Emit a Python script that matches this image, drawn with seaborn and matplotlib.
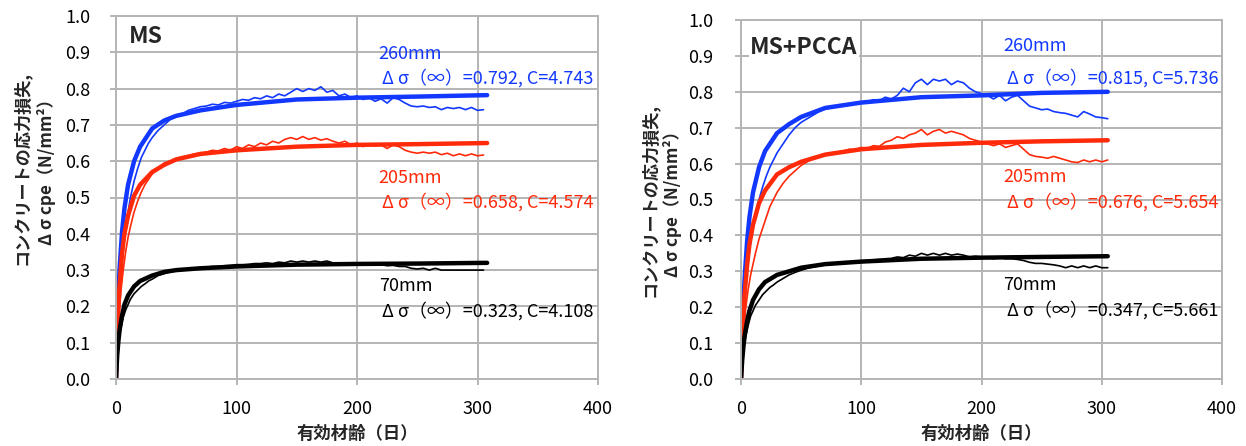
import matplotlib
matplotlib.use("Agg")
import matplotlib.pyplot as plt
import seaborn as sns
import pandas as pd

sns.set_theme(style="white")
plt.rcParams['font.family'] = ['Noto Sans CJK JP', 'DejaVu Sans']

# ---------------- data ----------------
fit_t = [0, 1, 2, 3, 5, 7, 10, 15, 20, 30, 40, 50, 70, 100, 150, 200, 250, 308]
fit_t2 = [0, 1, 2, 3, 5, 7, 10, 15, 20, 30, 40, 50, 70, 100, 150, 200, 250, 305]

ms_fit_260 = [0, 0.14, 0.235, 0.305, 0.405, 0.47, 0.535, 0.60, 0.64, 0.69, 0.712, 0.725, 0.74, 0.755, 0.77, 0.775, 0.778, 0.782]
ms_fit_205 = [0, 0.12, 0.20, 0.26, 0.345, 0.40, 0.45, 0.505, 0.535, 0.57, 0.59, 0.605, 0.62, 0.63, 0.64, 0.645, 0.647, 0.65]
ms_fit_70 = [0, 0.065, 0.105, 0.135, 0.175, 0.205, 0.23, 0.255, 0.27, 0.285, 0.295, 0.30, 0.305, 0.31, 0.315, 0.317, 0.318, 0.32]

pc_fit_260 = [0, 0.12, 0.21, 0.28, 0.38, 0.45, 0.52, 0.59, 0.635, 0.685, 0.71, 0.73, 0.755, 0.77, 0.785, 0.79, 0.797, 0.80]
pc_fit_205 = [0, 0.10, 0.175, 0.235, 0.315, 0.375, 0.43, 0.49, 0.525, 0.57, 0.59, 0.605, 0.625, 0.64, 0.652, 0.658, 0.662, 0.665]
pc_fit_70 = [0, 0.052, 0.09, 0.12, 0.16, 0.19, 0.22, 0.25, 0.27, 0.29, 0.30, 0.31, 0.32, 0.327, 0.335, 0.338, 0.34, 0.342]

meas_t = [0, 2, 4, 6, 8, 10, 12, 15, 18, 21, 24, 27, 30, 35, 40, 45, 50, 55, 60, 65, 70, 75, 80, 85, 90, 95,
          100, 105, 110, 115, 120, 125, 130, 135, 140, 145, 150, 155, 160, 165, 170, 175, 180, 185, 190, 195,
          200, 205, 210, 215, 220, 225, 230, 235, 240, 245, 250, 255, 260, 265, 270, 275, 280, 285, 290, 295,
          300, 305]

ms_meas_260 = [0, 0.2, 0.3, 0.37, 0.42, 0.46, 0.50, 0.545, 0.58, 0.61, 0.63, 0.65, 0.665, 0.685, 0.70, 0.715,
               0.725, 0.73, 0.74, 0.745, 0.75, 0.752, 0.757, 0.755, 0.762, 0.76, 0.765, 0.77, 0.768, 0.775,
               0.772, 0.78, 0.775, 0.785, 0.78, 0.79, 0.80, 0.792, 0.80, 0.795, 0.805, 0.79, 0.795, 0.78,
               0.785, 0.775, 0.78, 0.77, 0.775, 0.765, 0.772, 0.76, 0.775, 0.77, 0.76, 0.752, 0.75, 0.752,
               0.748, 0.75, 0.742, 0.748, 0.745, 0.748, 0.742, 0.748, 0.74, 0.742]
ms_meas_205 = [0, 0.15, 0.24, 0.30, 0.35, 0.39, 0.42, 0.46, 0.49, 0.515, 0.535, 0.55, 0.565, 0.58, 0.595, 0.60,
               0.605, 0.612, 0.615, 0.62, 0.622, 0.625, 0.63, 0.628, 0.635, 0.63, 0.64, 0.635, 0.645, 0.64,
               0.65, 0.645, 0.655, 0.65, 0.66, 0.665, 0.66, 0.668, 0.66, 0.665, 0.658, 0.662, 0.655, 0.65,
               0.655, 0.645, 0.65, 0.64, 0.648, 0.642, 0.645, 0.635, 0.645, 0.64, 0.63, 0.625, 0.622, 0.625,
               0.622, 0.625, 0.618, 0.622, 0.615, 0.62, 0.615, 0.62, 0.615, 0.617]
ms_meas_70 = [0, 0.10, 0.14, 0.17, 0.19, 0.205, 0.22, 0.235, 0.245, 0.255, 0.262, 0.27, 0.275, 0.285, 0.29,
              0.295, 0.298, 0.30, 0.303, 0.305, 0.305, 0.308, 0.31, 0.31, 0.312, 0.313, 0.315, 0.315, 0.316,
              0.318, 0.318, 0.32, 0.318, 0.322, 0.32, 0.325, 0.322, 0.325, 0.322, 0.325, 0.322, 0.325, 0.32,
              0.318, 0.318, 0.315, 0.316, 0.315, 0.315, 0.314, 0.315, 0.312, 0.313, 0.31, 0.31, 0.305, 0.303,
              0.305, 0.30, 0.305, 0.30, 0.30, 0.30, 0.30, 0.30, 0.30, 0.30, 0.30]

pc_meas_260 = [0, 0.18, 0.27, 0.33, 0.38, 0.42, 0.46, 0.50, 0.535, 0.565, 0.59, 0.61, 0.63, 0.655, 0.68, 0.70,
               0.715, 0.725, 0.735, 0.745, 0.752, 0.755, 0.76, 0.762, 0.765, 0.768, 0.77, 0.772, 0.778, 0.775,
               0.785, 0.78, 0.79, 0.81, 0.80, 0.825, 0.835, 0.82, 0.835, 0.83, 0.835, 0.82, 0.83, 0.825, 0.81,
               0.80, 0.795, 0.79, 0.78, 0.79, 0.775, 0.785, 0.79, 0.775, 0.76, 0.755, 0.75, 0.752, 0.745,
               0.742, 0.74, 0.735, 0.73, 0.745, 0.738, 0.73, 0.728, 0.725]
pc_meas_205 = [0, 0.13, 0.20, 0.25, 0.29, 0.32, 0.35, 0.39, 0.42, 0.45, 0.48, 0.50, 0.52, 0.545, 0.565, 0.58,
               0.595, 0.605, 0.615, 0.62, 0.625, 0.63, 0.632, 0.635, 0.64, 0.638, 0.645, 0.642, 0.65, 0.648,
               0.66, 0.665, 0.675, 0.67, 0.68, 0.685, 0.695, 0.68, 0.69, 0.695, 0.685, 0.69, 0.685, 0.68, 0.67,
               0.665, 0.66, 0.655, 0.65, 0.655, 0.645, 0.65, 0.655, 0.64, 0.625, 0.62, 0.618, 0.615, 0.62,
               0.615, 0.61, 0.605, 0.603, 0.61, 0.605, 0.61, 0.605, 0.61]
pc_meas_70 = [0, 0.08, 0.12, 0.15, 0.175, 0.19, 0.205, 0.22, 0.235, 0.245, 0.255, 0.262, 0.27, 0.28, 0.29,
              0.297, 0.303, 0.308, 0.312, 0.315, 0.318, 0.32, 0.322, 0.324, 0.325, 0.326, 0.328, 0.33, 0.332,
              0.333, 0.335, 0.336, 0.34, 0.338, 0.345, 0.342, 0.35, 0.345, 0.35, 0.345, 0.35, 0.345, 0.348,
              0.345, 0.34, 0.342, 0.34, 0.338, 0.335, 0.338, 0.335, 0.335, 0.333, 0.33, 0.325, 0.322, 0.322,
              0.32, 0.318, 0.315, 0.31, 0.315, 0.31, 0.315, 0.31, 0.315, 0.31, 0.31]

x_ticks = [0, 100, 200, 300, 400]
y_ticks = [0.0, 0.1, 0.2, 0.3, 0.4, 0.5, 0.6, 0.7, 0.8, 0.9, 1.0]

panel_titles = ["MS", "MS+PCCA"]
size_labels = ["260mm", "205mm", "70mm"]
ms_params = ["Δ σ（∞）=0.792, C=4.743", "Δ σ（∞）=0.658, C=4.574", "Δ σ（∞）=0.323, C=4.108"]
pc_params = ["Δ σ（∞）=0.815, C=5.736", "Δ σ（∞）=0.676, C=5.654", "Δ σ（∞）=0.347, C=5.661"]

xlabel = "有効材齢（日）"
ylabel_1 = "コンクリートの応力損失,"
ylabel_2 = "Δ σ cpe（N/mm²）"

BLUE = "#1238ff"
RED = "#ff2a0a"
BLACK = "#000000"
colors = [BLUE, RED, BLACK]

W, H = 1246, 446
fig = plt.figure(figsize=(12.46, 4.46), dpi=100)
ax1 = fig.add_axes([116 / W, 1 - 379 / H, 482 / W, 363 / H])
ax2 = fig.add_axes([741 / W, 1 - 379 / H, 481 / W, 359 / H])

panels = [
    (ax1, fit_t, [ms_fit_260, ms_fit_205, ms_fit_70], [ms_meas_260, ms_meas_205, ms_meas_70], ms_params,
     panel_titles[0], (10.5, 0.944), [0.896, 0.555, 0.257], [0.829, 0.486, 0.188],
     (-0.197, -0.145, 0.581), 14),
    (ax2, fit_t2, [pc_fit_260, pc_fit_205, pc_fit_70], [pc_meas_260, pc_meas_205, pc_meas_70], pc_params,
     panel_titles[1], (7.5, 0.923), [0.928, 0.563, 0.262], [0.838, 0.493, 0.192],
     (-0.19, -0.143, 0.499), 15.5),
]

for ax, ft, fits, meas, params, title, tpos, ly, py, yl, ypad in panels:
    for fit, m, c in zip(fits, meas, colors):
        dm = pd.DataFrame({"t": meas_t, "v": m})
        sns.lineplot(data=dm, x="t", y="v", ax=ax, color=c, lw=1.2, estimator=None, sort=False)
        df = pd.DataFrame({"t": ft, "v": fit})
        sns.lineplot(data=df, x="t", y="v", ax=ax, color=c, lw=3.2, estimator=None, sort=False)
    ax.set_xlim(0, 400)
    ax.set_ylim(0, 1.0)
    ax.set_xticks(x_ticks)
    ax.set_yticks(y_ticks)
    ax.set_yticklabels([f"{v:.1f}" for v in y_ticks])
    ax.grid(True, color="#b4b4b4", lw=1.4)
    ax.set_axisbelow(True)
    for s in ax.spines.values():
        s.set_color("#b4b4b4")
        s.set_linewidth(1.4)
    ax.tick_params(axis="both", length=4.3, width=1.4, color="#b4b4b4", labelsize=13,
                   labelcolor="black", bottom=True, left=True)
    ax.tick_params(axis="y", pad=ypad)
    ax.tick_params(axis="x", pad=11)
    ax.set_xlabel(xlabel, fontsize=12.5, fontweight="bold", labelpad=5)
    ax.set_ylabel("")
    ax.text(yl[0], yl[2], ylabel_1, transform=ax.transAxes, rotation=90, ha="center", va="center",
            fontsize=12.3, fontweight="bold")
    ax.text(yl[1], yl[2], ylabel_2, transform=ax.transAxes, rotation=90, ha="center", va="center",
            fontsize=12.3, fontweight="bold")
    ax.text(tpos[0], tpos[1], title, fontsize=16.5, fontweight="bold", va="center", ha="left",
            bbox=dict(facecolor="white", edgecolor="none", pad=1))
    for i in range(3):
        ax.text(218, ly[i], size_labels[i], color=colors[i], fontsize=13, va="center", ha="left")
        ax.text(221, py[i], params[i], color=colors[i], fontsize=13, va="center", ha="left")

fig.savefig("out.png", dpi=100)
